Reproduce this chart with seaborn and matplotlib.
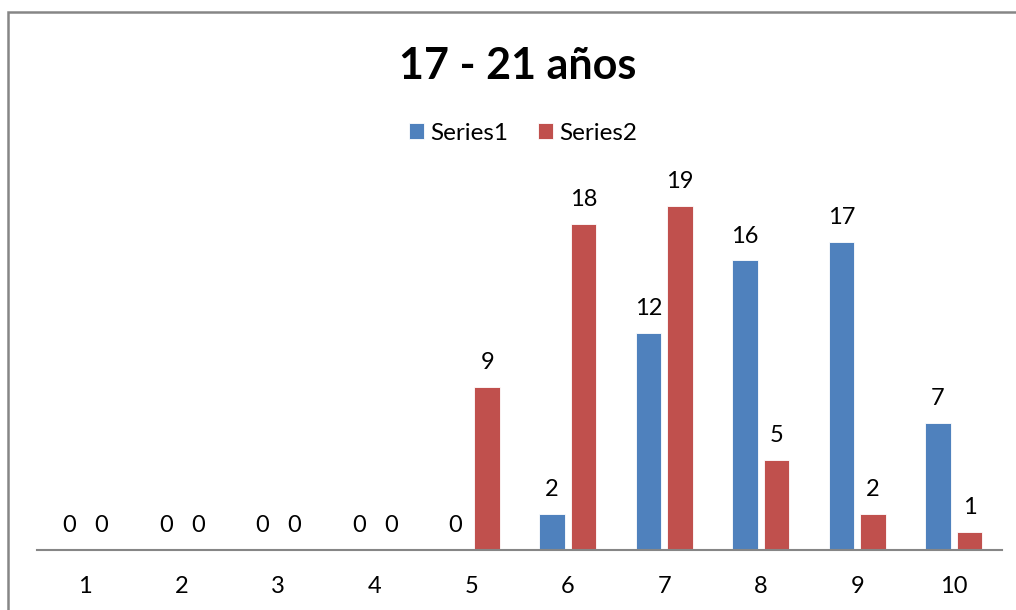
import pandas as pd
import seaborn as sns
import matplotlib.pyplot as plt
from matplotlib.patches import Rectangle

# chart values
categories = ['1', '2', '3', '4', '5', '6', '7', '8', '9', '10']
series1 = [0, 0, 0, 0, 0, 2, 12, 16, 17, 7]
series2 = [0, 0, 0, 0, 9, 18, 19, 5, 2, 1]
series_names = ['Series1', 'Series2']
title = '17 - 21 años'

colors = ['#4F81BD', '#C0504D']
axis_grey = '#868686'

df = pd.DataFrame({
    'cat': categories * 2,
    'value': series1 + series2,
    'series': [series_names[0]] * len(categories) + [series_names[1]] * len(categories),
})

sns.set_theme(style='white')
plt.rcParams['font.family'] = ['Lato', 'DejaVu Sans']
plt.rcParams['text.color'] = 'black'

fig = plt.figure(figsize=(10.16, 6.1), dpi=100)
ax = fig.add_axes([37 / 1016, 60 / 610, 965 / 1016, 362 / 610])

sns.barplot(data=df, x='cat', y='value', hue='series', order=categories,
            hue_order=series_names, palette=colors, width=0.66, gap=0.2,
            saturation=1, edgecolor='white', linewidth=0.6, ax=ax)

for cont in ax.containers:
    ax.bar_label(cont, fmt='%d', padding=10, fontsize=17, color='black')

ax.set_ylim(0, 20)
ax.set_xlim(-0.5, 9.5)
ax.set_xlabel('')
ax.set_ylabel('')
ax.set_yticks([])
ax.tick_params(axis='x', length=0, pad=19, labelsize=17, labelcolor='black')
for side in ['top', 'right', 'left']:
    ax.spines[side].set_visible(False)
ax.spines['bottom'].set_color(axis_grey)
ax.spines['bottom'].set_linewidth(1.5)

leg = ax.legend(loc='center', bbox_to_anchor=(523 / 1016, 1 - 133 / 610),
                bbox_transform=fig.transFigure, ncol=2, frameon=False,
                fontsize=17.5, handlelength=0.65, handleheight=0.65,
                handletextpad=0.25, columnspacing=1.2)
for t in leg.get_texts():
    t.set_color('black')

fig.text(518 / 1016, 1 - 66 / 610, title, ha='center', va='center',
         fontsize=31, fontweight='bold', color='black')

# chart area border, cut off at the right and bottom
fig.patches.append(Rectangle((8 / 1016, -0.05), 1.1, 1 - 12 / 610 + 0.05,
                             transform=fig.transFigure, fill=False,
                             edgecolor=axis_grey, linewidth=1.8))

fig.savefig('out.png', dpi=100)
